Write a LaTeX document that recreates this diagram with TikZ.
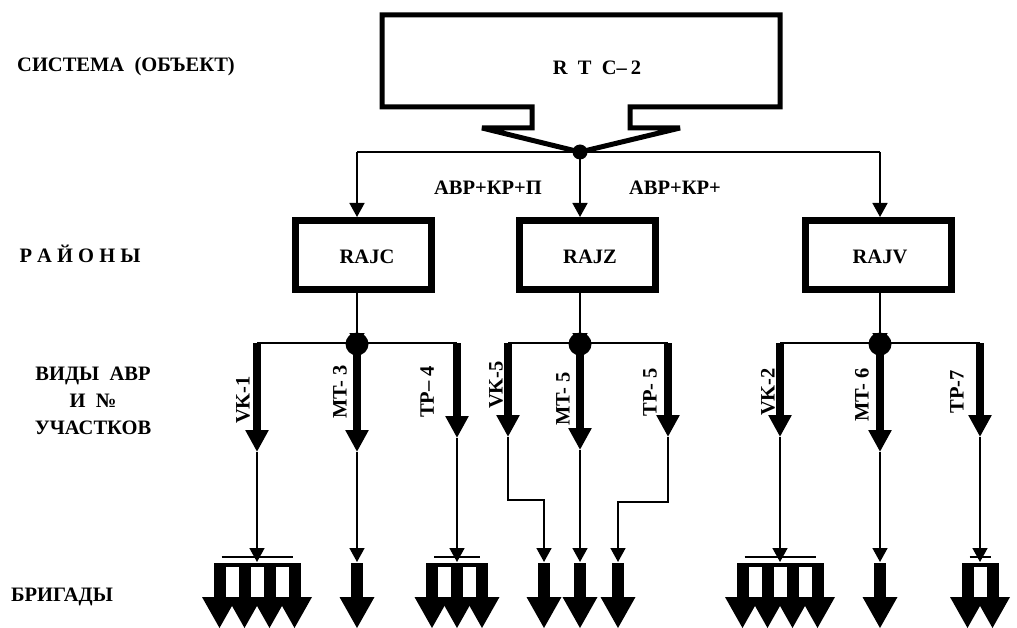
\documentclass[tikz,border=0pt]{standalone}
\usepackage{fontspec}
\setmainfont{Liberation Serif}
\usetikzlibrary{arrows.meta}
\newcommand{\brigsym}[3]{% name, center x, count
  \coordinate (#1) at (#2,562);
  \foreach \i in {1,...,#3}{
    \pgfmathsetmacro{\cx}{#2+(\i-(#3+1)/2)*25}
    \fill (\cx-6,563) rectangle (\cx+6,597);
    \fill (\cx-17.5,597) -- (\cx+17.5,597) -- (\cx,628) -- cycle;
  }
  \ifnum#3>1
    \pgfmathsetmacro{\xa}{#2-(#3-1)/2*25}
    \pgfmathsetmacro{\xb}{#2+(#3-1)/2*25}
    \fill (\xa-6,563) rectangle (\xb+6,567);
    \draw[line width=1.6pt] (\xa+2,557) -- (\xb-2,557);
  \fi
}
\begin{document}
\begin{tikzpicture}[x=1pt,y=-1pt,
  conn/.style={line width=1.6pt},
  carr/.style={conn,-{Triangle[width=15pt,length=14pt]}},
  tarr/.style={line width=8pt,-{Triangle[width=22pt,length=22pt]}},
  boxn/.style={draw,line width=7pt,minimum width=136pt,minimum height=69pt,inner sep=0pt},
  lbl/.style={font=\bfseries\fontsize{20.5}{27}\selectfont,inner sep=0pt},
  vlbl/.style={lbl,rotate=90}]
\useasboundingbox (0,0) rectangle (1017,628);

% left labels
\node[lbl] (l1) at (126,67) {СИСТЕМА\ \ (ОБЪЕКТ)};
\node[lbl] (l2) at (80,254) {Р А Й О Н Ы};
\node[lbl,align=center] (l3) at (93,401) {ВИДЫ\ \ АВР\\И\ \ №\\УЧАСТКОВ};
\node[lbl] (l4) at (62,597) {БРИГАДЫ};

% system box
\draw[line width=5pt,line join=miter,miter limit=2] (532,107) -- (382,107) -- (382,15) -- (780,15) -- (780,107)
  -- (630,107) -- (630,128) -- (680,128) -- (580,152) -- (482,128) -- (532,128) -- cycle;
\node[lbl] (rtc) at (597,68) {R\hspace{0.5em}T\hspace{0.5em}C–\hspace{0.2em}2};
\coordinate (j0) at (580,152);
\coordinate (tl) at (357,152);
\coordinate (tr) at (880,152);

% districts
\node[boxn] (rajc) at (363.5,255) {};
\node[lbl] at (367,257) {RAJC};
\node[boxn] (rajz) at (587,255) {};
\node[lbl] at (590,257) {RAJZ};
\node[boxn,minimum width=146pt] (rajv) at (878.5,255) {};
\node[lbl] at (880,257) {RAJV};

\draw[conn] (tl) -- (tr);
\draw[carr] (tl) -- (tl |- rajc.north);
\draw[carr] (j0) -- (j0 |- rajz.north);
\draw[carr] (tr) -- (tr |- rajv.north);
\fill (j0) circle (7.5);

\node[lbl] (k1) at (488,188) {АВР+КР+П};
\node[lbl] (k2) at (675,188) {АВР+КР+};

% second level junctions
\coordinate (m1) at (357,344);
\coordinate (m2) at (580,344);
\coordinate (m3) at (880,344);
\draw[carr] (m1 |- rajc.south) -- ([yshift=-3pt]m1);
\draw[carr] (m2 |- rajz.south) -- ([yshift=-3pt]m2);
\draw[carr] (m3 |- rajv.south) -- ([yshift=-3pt]m3);

\coordinate (a1) at (257,343); \coordinate (a2) at (357,343); \coordinate (a3) at (457,343);
\coordinate (a4) at (508,343); \coordinate (a5) at (580,343); \coordinate (a6) at (668,343);
\coordinate (a7) at (780,343); \coordinate (a8) at (880,343); \coordinate (a9) at (980,343);
\coordinate (t1) at (257,452); \coordinate (t2) at (357,452); \coordinate (t3) at (457,438);
\coordinate (t4) at (508,437); \coordinate (t5) at (580,450); \coordinate (t6) at (668,437);
\coordinate (t7) at (780,437); \coordinate (t8) at (880,452); \coordinate (t9) at (980,437);

\draw[conn] (a1) -- (a3);
\draw[conn] (a4) -- (a6);
\draw[conn] (a7) -- (a9);
\foreach \k in {1,...,9}{\draw[tarr] (a\k) -- (t\k);}
\fill (m1) circle (11.5);
\fill (m2) circle (11.5);
\fill (m3) circle (11.5);

% type labels
\node[vlbl] at (243,400) {VK-1};
\node[vlbl] at (340,392) {MT- 3};
\node[vlbl] at (427,392) {TP– 4};
\node[vlbl] at (496,385) {VK-5};
\node[vlbl] at (563,399) {MT- 5};
\node[vlbl] at (650,392) {TP- 5};
\node[vlbl] at (768,392) {VK-2};
\node[vlbl] at (862,395) {MT- 6};
\node[vlbl] at (957,392) {TP-7};

% brigades
\brigsym{b1}{257}{4}
\brigsym{b2}{357}{1}
\brigsym{b3}{457}{3}
\brigsym{b4}{544}{1}
\brigsym{b5}{580}{1}
\brigsym{b6}{618}{1}
\brigsym{b7}{780}{4}
\brigsym{b8}{880}{1}
\brigsym{b9}{980}{2}

\draw[carr] (t1) -- (b1);
\draw[carr] (t2) -- (b2);
\draw[carr] (t3) -- (b3);
\draw[carr] (t4) -- ++(0,63) -| (b4);
\draw[carr] (t5) -- (b5);
\draw[carr] (t6) -- ++(0,65) -| (b6);
\draw[carr] (t7) -- (b7);
\draw[carr] (t8) -- (b8);
\draw[carr] (t9) -- (b9);
\end{tikzpicture}
\end{document}
